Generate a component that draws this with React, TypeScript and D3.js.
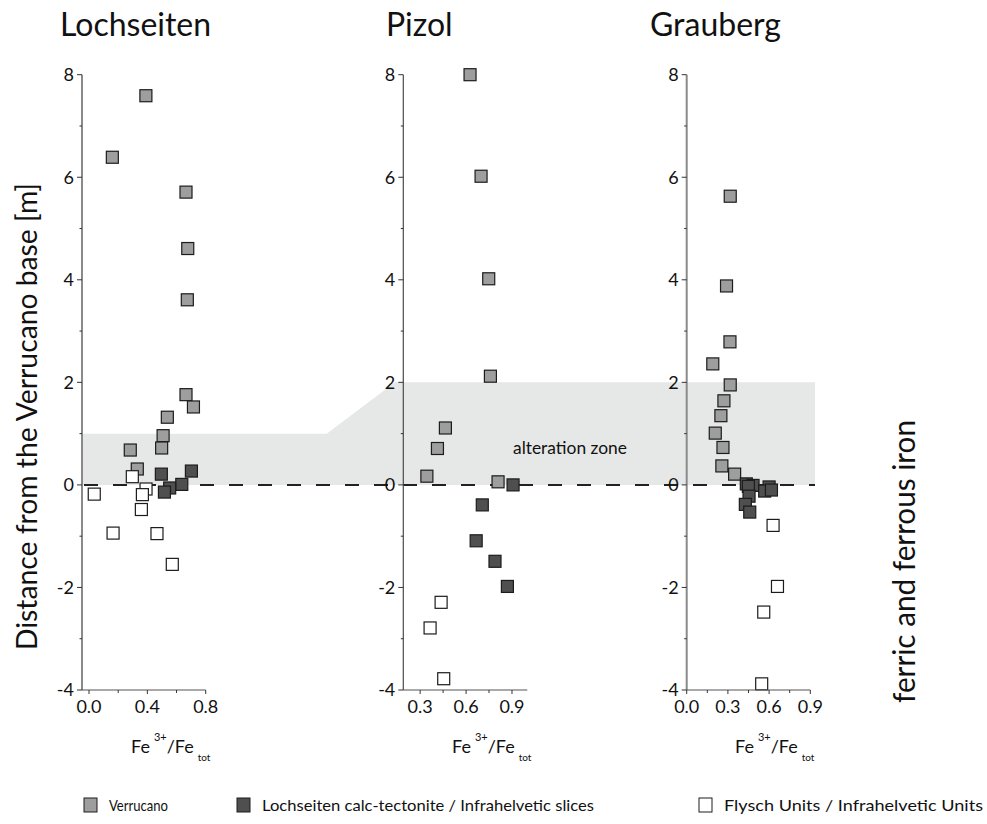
import React from "react";
import * as d3 from "d3";

// ---------- data ----------
const panelNames = ["Lochseiten", "Pizol", "Grauberg"];
const yMajorTicks = [-4, -2, 0, 2, 4, 6, 8];
const yMinorTicks = [-3, -1, 1, 3, 5, 7];

const lochXMajor = [0.0, 0.4, 0.8];
const lochXMinor = [0.2, 0.6];
const pizXMajor = [0.3, 0.6, 0.9];
const pizXMinor = [0.45, 0.75];
const grauXMajor = [0.0, 0.3, 0.6, 0.9];
const grauXMinor = [0.15, 0.45, 0.75];

// [Fe3+/Fetot, distance (m)]
const lochVerrucano = [[0.39, 7.59], [0.16, 6.39], [0.665, 5.71], [0.677, 4.61], [0.674, 3.61], [0.665, 1.76], [0.716, 1.52], [0.537, 1.32], [0.508, 0.96], [0.498, 0.72], [0.283, 0.68], [0.331, 0.31]];
const lochCalc = [[0.496, 0.21], [0.702, 0.27], [0.636, 0.01], [0.553, -0.06], [0.517, -0.14]];
const lochFlysch = [[0.297, 0.16], [0.036, -0.18], [0.391, -0.08], [0.366, -0.19], [0.359, -0.48], [0.165, -0.94], [0.466, -0.95], [0.571, -1.55]];

const pizVerrucano = [[0.626, 8.0], [0.698, 6.02], [0.748, 4.02], [0.759, 2.12], [0.465, 1.11], [0.413, 0.71], [0.344, 0.17], [0.809, 0.06]];
const pizCalc = [[0.907, 0.0], [0.706, -0.39], [0.666, -1.09], [0.789, -1.49], [0.87, -1.98]];
const pizFlysch = [[0.437, -2.29], [0.365, -2.79], [0.454, -3.78]];

const grauVerrucano = [[0.317, 5.63], [0.29, 3.88], [0.315, 2.79], [0.19, 2.36], [0.317, 1.95], [0.271, 1.64], [0.249, 1.35], [0.208, 1.01], [0.264, 0.73], [0.256, 0.37], [0.349, 0.21]];
const grauCalc = [[0.6, -0.04], [0.434, 0.02], [0.483, -0.01], [0.449, -0.03], [0.454, -0.22], [0.427, -0.38], [0.459, -0.53], [0.568, -0.12], [0.617, -0.1]];
const grauFlysch = [[0.629, -0.79], [0.661, -1.98], [0.561, -2.48], [0.546, -3.88]];

const zoneTop = [1, 2, 2];
const legendLabels = ["Verrucano", "Lochseiten calc-tectonite / Infrahelvetic slices", "Flysch Units / Infrahelvetic Units"];

// ---------- styles ----------
const FONT = "Lato, 'Open Sans', sans-serif";
const fills = ["#9e9e9e", "#4f4f4f", "#ffffff"];
const STROKE = "#1c1c1c";

const W = 987, H = 824;
const yScale = d3.scaleLinear().domain([-4, 8]).range([690, 74.7]);

const panels = [
  { name: panelNames[0], domain: [-0.048, 0.8], range: [82, 205.7], major: lochXMajor, minor: lochXMinor, fmt: d3.format(".1f"), series: [lochVerrucano, lochCalc, lochFlysch], titleX: 60, feX: 131, yAxisColor: "#8a8a8a", yAxisW: 2 },
  { name: panelNames[1], domain: [0.19, 1.0], range: [403.3, 527.3], major: pizXMajor, minor: pizXMinor, fmt: d3.format(".1f"), series: [pizVerrucano, pizCalc, pizFlysch], titleX: 386, feX: 452, yAxisColor: "#4a4a4a", yAxisW: 1.2 },
  { name: panelNames[2], domain: [0, 0.9], range: [686.7, 810.3], major: grauXMajor, minor: grauXMinor, fmt: d3.format(".1f"), series: [grauVerrucano, grauCalc, grauFlysch], titleX: 650, feX: 735, yAxisColor: "#8a8a8a", yAxisW: 2 },
];

const SQ = 12;

function Panel({ p }: { p: any }) {
  const x = d3.scaleLinear().domain(p.domain).range(p.range);
  const axisX = p.range[0];
  const y0 = yScale(-4);
  return (
    <g>
      <text x={p.titleX} y={36} fontFamily={FONT} fontSize={32} fill="#111">{p.name}</text>
      {p.series.map((s: number[][], si: number) =>
        s.map((d, i) => (
          <rect key={si + "-" + i} x={x(d[0]) - SQ / 2} y={yScale(d[1]) - SQ / 2} width={SQ} height={SQ}
            fill={fills[si]} stroke={STROKE} strokeWidth={1.2} />
        ))
      )}
      <line x1={axisX} x2={axisX} y1={yScale(8)} y2={y0} stroke={p.yAxisColor} strokeWidth={p.yAxisW} />
      {yMajorTicks.map((t) => (
        <g key={"ym" + t}>
          <line x1={axisX - 5} x2={axisX} y1={yScale(t)} y2={yScale(t)} stroke="#333" strokeWidth={1} />
          <text x={axisX - 8} y={yScale(t)} dy="0.36em" textAnchor="end" fontFamily={FONT} fontSize={18} fill="#111">{t}</text>
        </g>
      ))}
      {yMinorTicks.map((t) => (
        <line key={"yn" + t} x1={axisX - 2.5} x2={axisX} y1={yScale(t)} y2={yScale(t)} stroke="#333" strokeWidth={1} />
      ))}
      <line x1={axisX} x2={p.range[1]} y1={y0} y2={y0} stroke="#555" strokeWidth={1.2} />
      {p.major.map((t: number) => (
        <g key={"xm" + t}>
          <line x1={x(t)} x2={x(t)} y1={y0} y2={y0 + 4} stroke="#333" strokeWidth={1} />
          <text x={x(t)} y={y0 + 23} textAnchor="middle" fontFamily={FONT} fontSize={18} fill="#111">{p.fmt(t)}</text>
        </g>
      ))}
      {p.minor.map((t: number) => (
        <line key={"xn" + t} x1={x(t)} x2={x(t)} y1={y0} y2={y0 + 3} stroke="#333" strokeWidth={1} />
      ))}
      <text x={p.feX} y={753} fontFamily={FONT} fontSize={18} fill="#111">
        Fe<tspan fontSize={11} dx={4} dy={-12}>3+</tspan><tspan dy={12}>/Fe</tspan><tspan fontSize={10} dx={4} dy={8}>tot</tspan>
      </text>
    </g>
  );
}

export default function App() {
  const zoneLeft = panels[0].range[0];
  const zoneRight = 815;
  const slopeStart = 326.7;
  const slopeEnd = 395;
  const zonePath = d3.line()([
    [zoneLeft, yScale(0)],
    [zoneLeft, yScale(zoneTop[0])],
    [slopeStart, yScale(zoneTop[0])],
    [slopeEnd, yScale(zoneTop[1])],
    [zoneRight, yScale(zoneTop[2])],
    [zoneRight, yScale(0)],
  ]) + "Z";
  const legendX = [84, 237, 699];
  const legendW = [59, 332, 259];
  return (
    <svg width={W} height={H} style={{ position: "absolute", left: 0, top: 0, background: "#fff" }}>
      <rect width={W} height={H} fill="#fff" />
      <path d={zonePath} fill="#e6e7e7" />
      <line x1={zoneLeft} x2={zoneRight} y1={yScale(0)} y2={yScale(0)} stroke="#222" strokeWidth={2} strokeDasharray="14 15" strokeDashoffset={-2} />
      <text x={513} y={454} fontFamily={FONT} fontSize={17} fill="#111" textLength={114} lengthAdjust="spacingAndGlyphs">alteration zone</text>
      {panels.map((p) => <Panel key={p.name} p={p} />)}
      <text transform={`translate(37,416.5) rotate(-90)`} textAnchor="middle" fontFamily={FONT} fontSize={29} fill="#111" textLength={467} lengthAdjust="spacingAndGlyphs">Distance from the Verrucano base [m]</text>
      <text transform={`translate(915,561.5) rotate(-90)`} textAnchor="middle" fontFamily={FONT} fontSize={30} fill="#111" textLength={283} lengthAdjust="spacingAndGlyphs">ferric and ferrous iron</text>
      {legendLabels.map((l, i) => (
        <g key={l}>
          <rect x={legendX[i]} y={798} width={13} height={14} fill={fills[i]} stroke={STROKE} strokeWidth={1} />
          <text x={legendX[i] + 25} y={811} fontFamily={FONT} fontSize={16} fill="#111" textLength={legendW[i]} lengthAdjust="spacingAndGlyphs">{l}</text>
        </g>
      ))}
    </svg>
  );
}
